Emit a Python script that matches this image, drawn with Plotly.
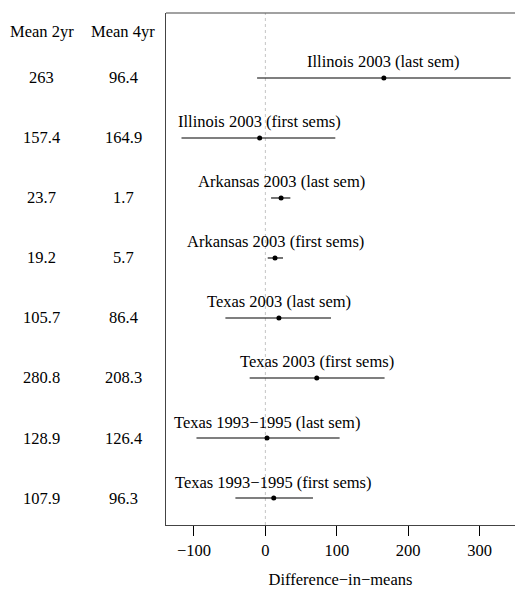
import plotly.graph_objects as go

labels = ["Illinois 2003 (last sem)", "Illinois 2003 (first sems)",
          "Arkansas 2003 (last sem)", "Arkansas 2003 (first sems)",
          "Texas 2003 (last sem)", "Texas 2003 (first sems)",
          "Texas 1993\u22121995 (last sem)", "Texas 1993\u22121995 (first sems)"]
estimate = [166, -8, 22, 13.5, 19, 72, 2.3, 11.7]
lower = [-11.6, -117.5, 8, 3.3, -56, -22, -96.5, -42]
upper = [343.6, 98, 35, 24.7, 92, 167, 104, 66.7]
mean_2yr = ["263", "157.4", "23.7", "19.2", "105.7", "280.8", "128.9", "107.9"]
mean_4yr = ["96.4", "164.9", "1.7", "5.7", "86.4", "208.3", "126.4", "96.3"]
xticks = [-100, 0, 100, 200, 300]

n = len(labels)
ypos = [n - i for i in range(n)]

FONT = "'Liberation Serif', 'Times New Roman', 'DejaVu Serif', serif"
FS = 16.5
W, H = 515, 589
ML, MR, MT, MB = 166, 0, 13, 64
pw = W - ML - MR

fig = go.Figure()

# reference line at zero
fig.add_shape(type="line", x0=0, x1=0, y0=0, y1=1, xref="x", yref="paper",
              line=dict(color="#c4c4c4", width=1, dash="dot"), layer="below")

lx, ly = [], []
for lo, hi, y in zip(lower, upper, ypos):
    lx += [lo, hi, None]
    ly += [y, y, None]
fig.add_trace(go.Scatter(x=lx, y=ly, mode="lines", line=dict(color="black", width=1.1),
                         hoverinfo="skip", showlegend=False))
fig.add_trace(go.Scatter(x=estimate, y=ypos, mode="markers",
                         marker=dict(color="black", size=5), showlegend=False))

tfont = dict(family=FONT, size=FS, color="black")
for lab, est, y in zip(labels, estimate, ypos):
    fig.add_annotation(x=est, y=y, text=lab, showarrow=False, xref="x", yref="y",
                       xanchor="center", yshift=16, font=tfont)

def px_to_paper(px):
    return (px - ML) / pw

col1 = px_to_paper(41.5)
col2 = px_to_paper(123)
fig.add_annotation(x=col1, y=8.78, xref="paper", yref="y", text="Mean 2yr", showarrow=False,
                   xanchor="center", font=tfont)
fig.add_annotation(x=col2, y=8.78, xref="paper", yref="y", text="Mean 4yr", showarrow=False,
                   xanchor="center", font=tfont)
for a, b, y in zip(mean_2yr, mean_4yr, ypos):
    fig.add_annotation(x=col1, y=y, xref="paper", yref="y", text=a, showarrow=False,
                       xanchor="center", font=tfont)
    fig.add_annotation(x=col2, y=y, xref="paper", yref="y", text=b, showarrow=False,
                       xanchor="center", font=tfont)

# top border
fig.add_shape(type="line", x0=0, x1=1, y0=1, y1=1, xref="paper", yref="paper",
              line=dict(color="#444", width=1.2))

fig.update_xaxes(range=[-139.2, 349.7], tickvals=xticks, ticks="outside", ticklen=10,
                 tickcolor="black", showline=True, linecolor="#444", linewidth=1.2,
                 showgrid=False, zeroline=False, tickfont=tfont,
                 title=dict(text="Difference\u2212in\u2212means", standoff=16, font=tfont))
fig.update_yaxes(range=[0.55, 9.083], showticklabels=False, ticks="", showline=True,
                 linecolor="#444", linewidth=1.2, showgrid=False, zeroline=False)

fig.update_layout(width=W, height=H, margin=dict(l=ML, r=MR, t=MT, b=MB),
                  plot_bgcolor="white", paper_bgcolor="white", showlegend=False,
                  font=dict(family=FONT))

fig.write_html("out.html")
